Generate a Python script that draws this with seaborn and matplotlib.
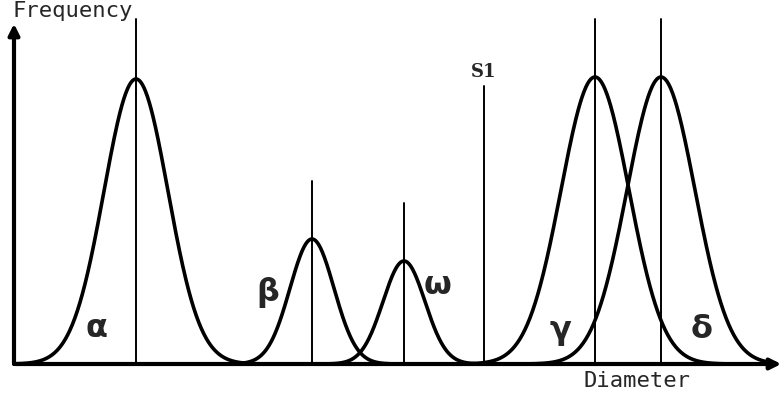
import numpy as np
import pandas as pd
import matplotlib
matplotlib.use("Agg")
import matplotlib.pyplot as plt
import seaborn as sns

sns.set_style("white")

# populations: name, centre, spread, peak height, top of the marker line
names = ["α", "β", "ω", "γ", "δ"]
centres = [136, 312, 404, 595, 661]
spreads = [32, 22, 21, 34, 34]
heights = [285, 125, 103, 287, 287]
line_tops = [345, 183, 161, 345, 345]
label_x = [97, 268, 438, 560, 702]
label_y = [36, 72, 79, 34, 35]

s1_x = 484
s1_top = 278

x = np.linspace(14, 775, 1200)
frames = []
for n, c, s, h in zip(names, centres, spreads, heights):
    frames.append(pd.DataFrame({"Diameter": x,
                                "Frequency": h * np.exp(-0.5 * ((x - c) / s) ** 2),
                                "pop": n}))
df = pd.concat(frames)

fig = plt.figure(figsize=(7.84, 4.02), dpi=100)
ax = fig.add_axes([0, 0, 1, 1])

sns.lineplot(data=df, x="Diameter", y="Frequency", units="pop", estimator=None,
             color="black", lw=2.6, ax=ax)

for c, t in zip(centres, line_tops):
    ax.plot([c, c], [0, t], color="black", lw=1.4)
ax.plot([s1_x, s1_x], [0, s1_top], color="black", lw=1.4)
ax.text(s1_x, s1_top + 6, "S1", family="DejaVu Serif", fontsize=13,
        ha="center", va="bottom", fontweight="bold")

for n, lx, ly in zip(names, label_x, label_y):
    ax.text(lx, ly, n, fontsize=23, ha="center", va="center",
            family="DejaVu Sans", fontweight="bold")

# axes with arrows
ax.annotate("", xy=(14, 343), xytext=(14, -1.5),
            arrowprops=dict(arrowstyle="-|>", lw=3, color="black", mutation_scale=16))
ax.annotate("", xy=(784, 0), xytext=(12.5, 0),
            arrowprops=dict(arrowstyle="-|>", lw=3, color="black", mutation_scale=16))

ax.text(13, 348, "Frequency", family="DejaVu Sans Mono", fontsize=16,
        ha="left", va="baseline")
ax.text(584, -22, "Diameter", family="DejaVu Sans Mono", fontsize=16,
        ha="left", va="baseline")

ax.set_xlim(0, 784)
ax.set_ylim(-37, 365)
ax.axis("off")
ax.set_xlabel("")
ax.set_ylabel("")

fig.savefig("out.png", dpi=100)
